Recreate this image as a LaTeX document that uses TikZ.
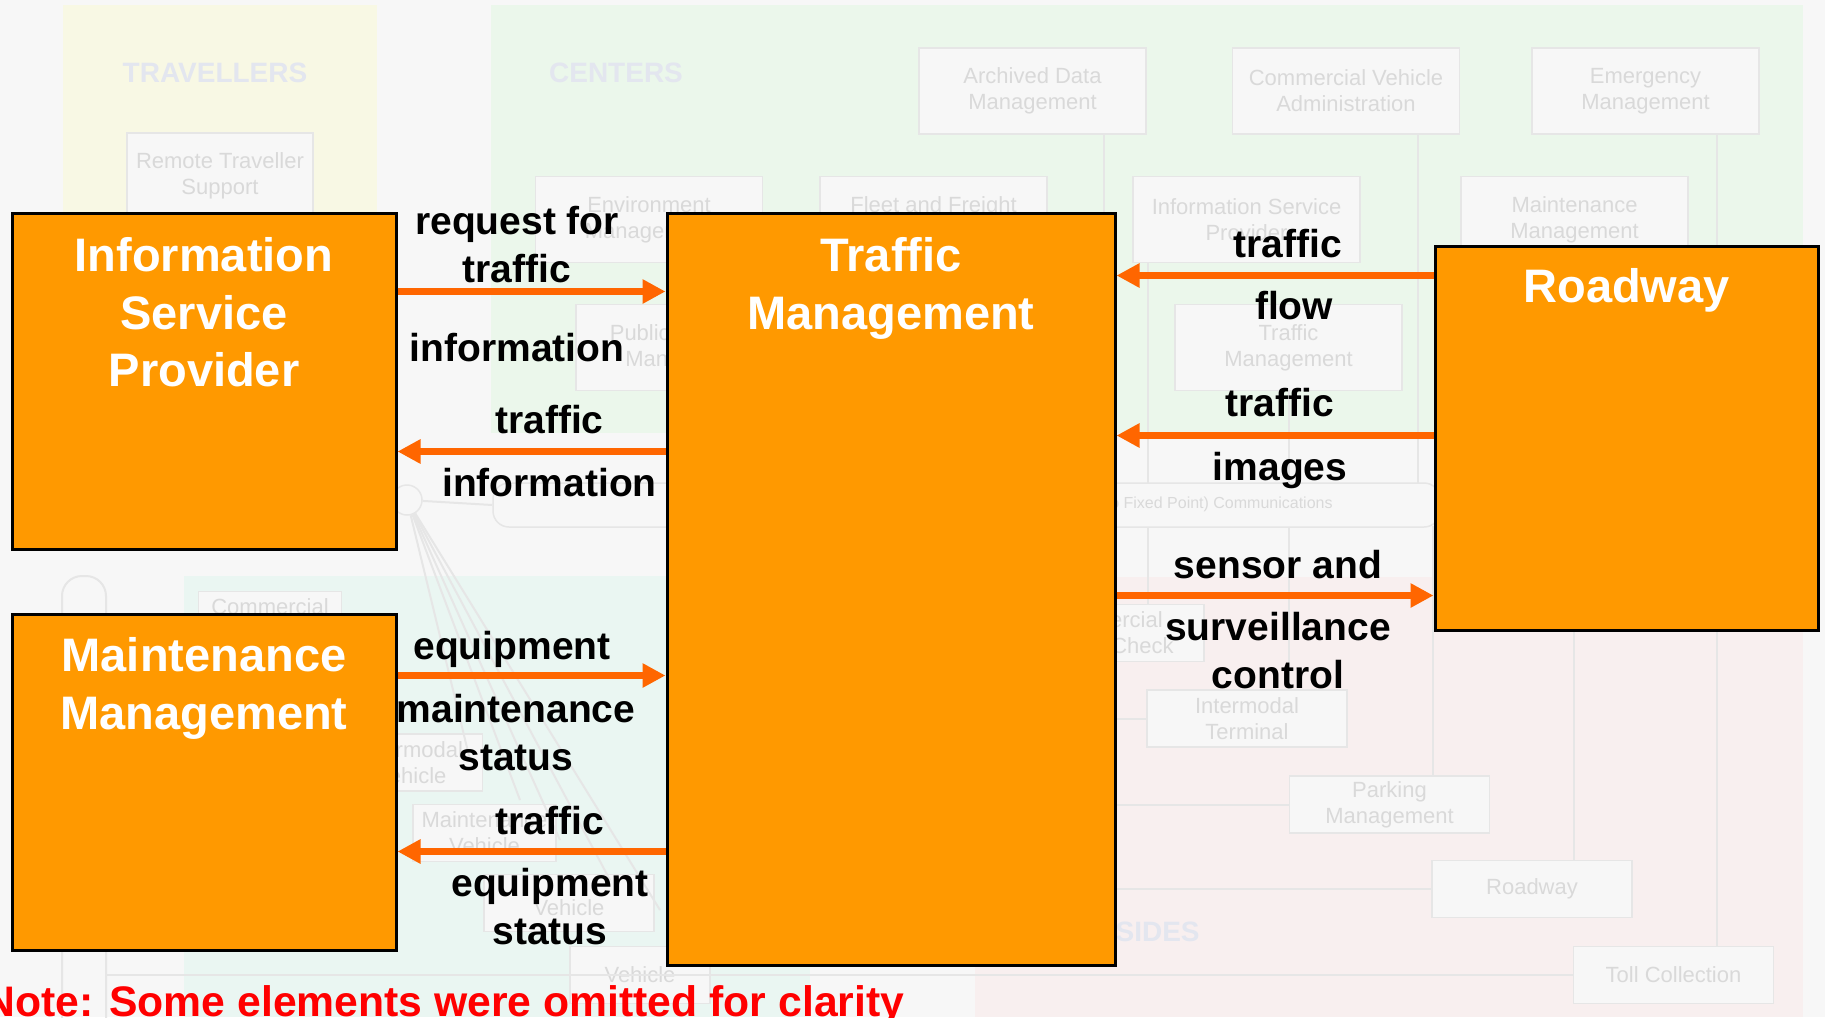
\documentclass[tikz,border=0pt]{standalone}
\usepackage{fontspec}
\setmainfont{Liberation Sans}
\usepackage{tikz}
\usetikzlibrary{arrows.meta,positioning}

\definecolor{pagegray}{HTML}{F7F7F7}
\definecolor{travellersyellow}{HTML}{F8F8E4}
\definecolor{centersgreen}{HTML}{EBF7EB}
\definecolor{vehiclescyan}{HTML}{EAF6F2}
\definecolor{roadsidepink}{HTML}{F8EFEF}
\definecolor{ghostfill}{HTML}{F7F7F7}
\definecolor{ghostline}{HTML}{E6E6E6}
\definecolor{ghosttext}{HTML}{D9D9D9}
\definecolor{regiontext}{HTML}{E3E6EF}
\definecolor{boxorange}{HTML}{FF9900}
\definecolor{floworange}{HTML}{FF6600}
\definecolor{notered}{HTML}{FF0000}

\begin{document}
\begin{tikzpicture}[x=0.5pt,y=-0.5pt]
\tikzset{BLOCK/.style={draw=black,line width=1.5pt,fill=boxorange,rectangle,inner sep=0pt}}
\tikzset{TITLE/.style={text=white,font=\fontsize{23.5}{28.75}\selectfont\bfseries,align=center,inner sep=0pt}}

\tikzset{FLOW/.style={draw=floworange,line width=3.5pt,-{Triangle[length=11.5pt,width=11.5pt]}}}
\tikzset{FLOWLABEL/.style={font=\fontsize{19.5}{24}\selectfont\bfseries,align=center,inner sep=0pt,midway}}

\tikzset{GHOST/.style={draw=ghostline,line width=0.75pt,fill=ghostfill,text=ghosttext,font=\fontsize{11}{13}\selectfont,align=center,inner sep=0pt,minimum width=113.5pt,minimum height=43pt}}
\tikzset{VEHICLE GHOST/.style={GHOST,minimum width=71.5pt,minimum height=28.5pt}}
\tikzset{ROADSIDE GHOST/.style={GHOST,minimum width=100pt,minimum height=28.5pt}}
\tikzset{REGIONTITLE/.style={text=regiontext,font=\fontsize{14}{16}\selectfont\bfseries,inner sep=0pt}}
\tikzset{WIRE/.style={draw=ghostline,line width=1pt}}

\tikzset{NOTE/.style={text=notered,font=\fontsize{21.35}{25}\selectfont\bfseries,inner sep=0pt}}

\useasboundingbox[fill=pagegray] (0,0) rectangle (1825,1017);

% faded architecture behind the flows
\fill[travellersyellow] (63,5) rectangle (377,400);
\fill[centersgreen] (491,5) rectangle (1803,433);
\fill[vehiclescyan] (184,576) rectangle (810,1017);
\fill[roadsidepink] (975,577) rectangle (1803,1017);

\node[REGIONTITLE] (travellers) at (215,73) {TRAVELLERS};
\node[REGIONTITLE] (centers) at (616,73) {CENTERS};
\node[REGIONTITLE,anchor=east] (roadsides) at (1200,932) {ROADSIDES};

\node[GHOST,minimum width=93pt] (remote traveller) at (220,176) {Remote Traveller\\Support};
\node[GHOST] (archived) at (1032.5,91) {Archived Data\\Management};
\node[GHOST] (cv admin) at (1346,91) {Commercial Vehicle\\Administration};
\node[GHOST] (emergency) at (1645.5,91) {Emergency\\Management};
\node[GHOST] (environment) at (649,219.5) {Environment\\Management};
\node[GHOST] (fleet) at (933.5,219.5) {Fleet and Freight\\Management};
\node[GHOST] (isp ghost) at (1246.5,219.5) {Information Service\\Provider};
\node[GHOST] (mm ghost) at (1574.5,219.5) {Maintenance\\Management};
\node[GHOST] (transport ghost) at (689.5,347.5) {Public Transport\\Management};
\node[GHOST] (tm ghost) at (1288.5,347.5) {Traffic\\Management};

\node[VEHICLE GHOST] (commercial vehicle) at (270,620) {Commercial\\Vehicle};
\node[VEHICLE GHOST] (intermodal vehicle) at (411,762.5) {Intermodal\\Vehicle};
\node[VEHICLE GHOST] (maintenance vehicle) at (484.5,833) {Maintenance\\Vehicle};
\node[VEHICLE GHOST,minimum width=85pt] (vehicle) at (569,903) {\mbox{}\\Vehicle};
\node[VEHICLE GHOST,minimum width=70pt] (lower vehicle) at (640,975) {Vehicle};

\node[ROADSIDE GHOST] (cv check) at (1104,633) {Commercial\\Vehicle Check};
\node[ROADSIDE GHOST] (intermodal terminal) at (1247,718.5) {Intermodal\\Terminal};
\node[ROADSIDE GHOST] (parking) at (1389.5,804.5) {Parking\\Management};
\node[ROADSIDE GHOST] (roadway ghost) at (1532,889) {Roadway};
\node[ROADSIDE GHOST] (toll) at (1673.5,975) {Toll Collection};

\path [WIRE] ([xshift=35.75pt]archived.south) -- ++(0,349);
\path [WIRE] ([xshift=36pt]cv admin.south) -- ++(0,349);
\path [WIRE] ([xshift=35.75pt]emergency.south) -- ([xshift=35.75pt]emergency.south |- toll.north);
\path [WIRE] ([xshift=-49.25pt]isp ghost.south) -- ([xshift=-49.25pt]isp ghost.south |- cv check.north);
\path [WIRE] (tm ghost.south) -- (tm ghost.south |- intermodal terminal.north);
\path [WIRE] ([xshift=21.75pt]parking.north) -- ++(0,-249);
\path [WIRE] ([xshift=21pt]roadway ghost.north) -- ++(0,-334);
\path [WIRE] (intermodal terminal.west) -- ++(-200,0);
\path [WIRE] (parking.west) -- ++(-300,0);
\path [WIRE] (roadway ghost.west) -- ++(-340,0);
\path [WIRE] (toll.west) -- ++(-1468,0);
\path [WIRE,rounded corners=10pt] (62,1040) -- (62,576) -- (106,576) -- (106,1040);

\node[draw=ghostline,line width=0.75pt,fill=pagegray,rounded corners=8pt,minimum width=473.5pt,minimum height=22pt,inner sep=0pt] (comm band) at (966.5,505) {};
\node[text=ghosttext,font=\fontsize{8}{9}\selectfont,anchor=east,inner sep=0pt] (comm label) at (1333,504) {Wireline (Fixed Point to Fixed Point) Communications};
\node[circle,draw=ghostline,line width=0.75pt,minimum size=15pt,inner sep=0pt] (hub) at (407,500) {};
\path [WIRE] (hub) -- (comm band.west);
\foreach \fx/\fy in {470/760, 520/800, 560/840, 610/880, 660/910}
  \path [WIRE] (hub) -- (\fx,\fy);

% the four subsystems
\node[BLOCK,minimum width=192pt,minimum height=168pt] (service provider) at (204,381) {};
\node[BLOCK,minimum width=192pt,minimum height=168pt] (maintenance) at (204,782) {};
\node[BLOCK,minimum width=224pt,minimum height=376pt] (traffic) at (891,589) {};
\node[BLOCK,minimum width=191.5pt,minimum height=192pt] (roadway) at (1626.5,438) {};

\node[TITLE,below=13pt of service provider.north] (service provider title) {Information\\Service\\Provider};
\node[TITLE,below=12.5pt of maintenance.north] (maintenance title) {Maintenance\\Management};
\node[TITLE,below=13pt of traffic.north] (traffic title) {Traffic\\Management};
\node[TITLE,below=12pt of roadway.north] (roadway title) {Roadway};

% flows
\coordinate (request) at ([yshift=-40pt]service provider.north east);
\coordinate (answer) at ([yshift=-120pt]service provider.north east);
\coordinate (equipment) at ([yshift=-31.5pt]maintenance.north east);
\coordinate (equipment back) at ([yshift=-119.5pt]maintenance.north east);
\coordinate (flow) at ([yshift=-15.5pt]roadway.north west);
\coordinate (images) at ([yshift=-95.5pt]roadway.north west);
\coordinate (sensor) at ([yshift=-175.5pt]roadway.north west);

\path [FLOW] (request) -- (request -| traffic.west)
  node[FLOWLABEL,above=2.65pt,xshift=-7.25pt] (request label) {request for\\traffic}
  node[FLOWLABEL,below=19pt,xshift=-7.25pt] (request label 2) {information};
\path [FLOW] (answer -| traffic.west) -- (answer)
  node[FLOWLABEL,above=7.15pt,xshift=9pt] (answer label) {traffic}
  node[FLOWLABEL,below=6.45pt,xshift=9pt] (answer label 2) {information};
\path [FLOW] (equipment) -- (equipment -| traffic.west)
  node[FLOWLABEL,above=2.4pt,xshift=-9.75pt] (equipment label) {equipment}
  node[FLOWLABEL,below=7.4pt,xshift=-7.75pt] (equipment label 2) {maintenance\\status};
\path [FLOW] (equipment back -| traffic.west) -- (equipment back)
  node[FLOWLABEL,above=6.5pt,xshift=9.25pt] (equipment back label) {traffic}
  node[FLOWLABEL,below=6.8pt,xshift=9.25pt] (equipment back label 2) {equipment\\status};
\path [FLOW] (flow) -- (flow -| traffic.east)
  node[FLOWLABEL,above=7pt,xshift=6.5pt] (flow label) {traffic}
  node[FLOWLABEL,below=6.3pt,xshift=9.5pt] (flow label 2) {flow};
\path [FLOW] (images) -- (images -| traffic.east)
  node[FLOWLABEL,above=7.5pt,xshift=2.5pt] (images label) {traffic}
  node[FLOWLABEL,below=6.5pt,xshift=2.5pt] (images label 2) {images};
\path [FLOW] (sensor -| traffic.east) -- (sensor)
  node[FLOWLABEL,above=6.5pt,xshift=1.5pt] (sensor label) {sensor and}
  node[FLOWLABEL,below=6.5pt,xshift=1.5pt] (sensor label 2) {surveillance\\control};

\node[NOTE,anchor=base west] (note) at (-16,1016.6) {Note: Some elements were omitted for clarity};

\end{tikzpicture}
\end{document}
